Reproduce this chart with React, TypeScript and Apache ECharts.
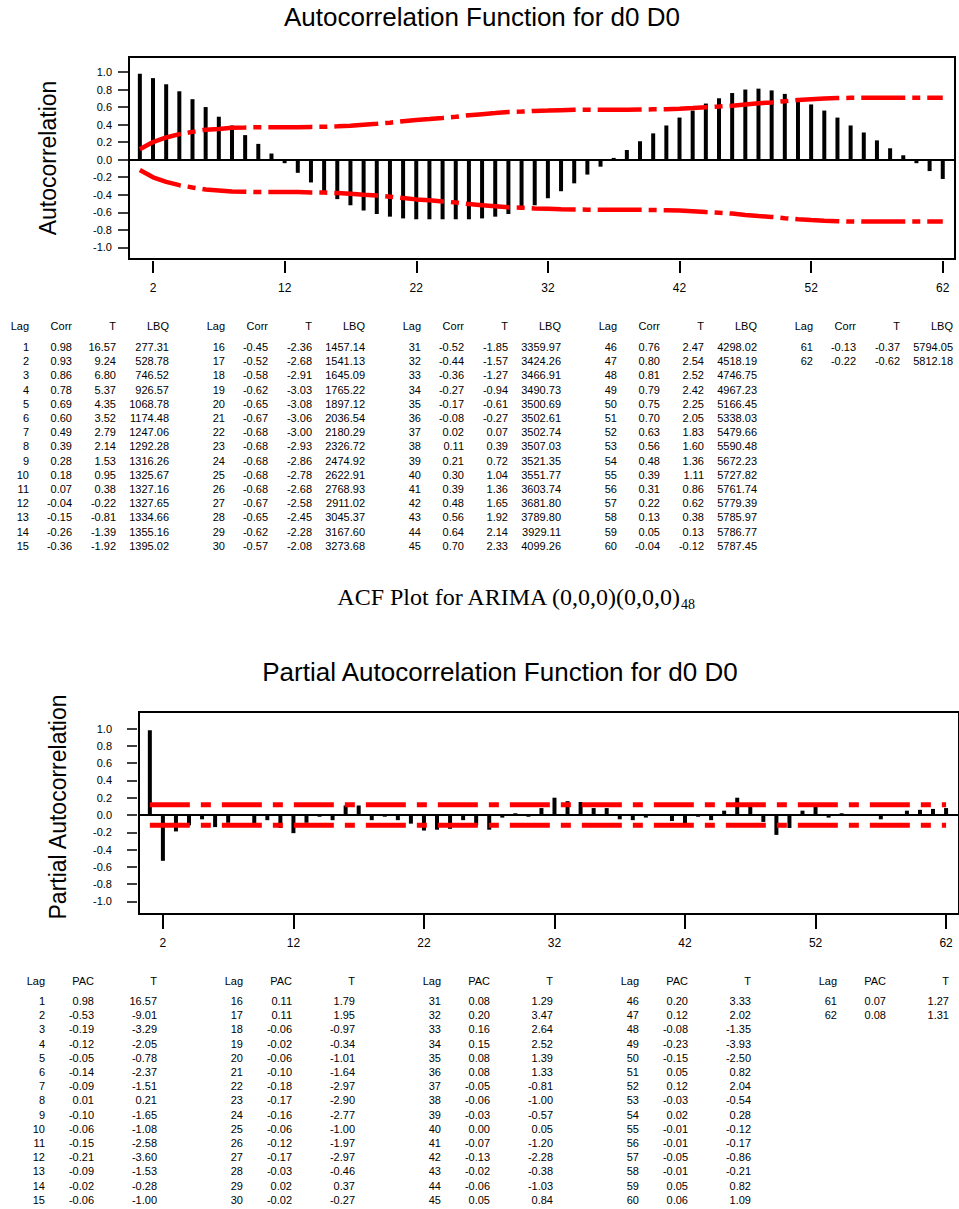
import React, { useEffect, useRef } from 'react';
import * as echarts from 'echarts';

// ---------- DATA ----------
const lags = [
  1, 2, 3, 4, 5, 6, 7, 8, 9, 10, 11, 12, 13, 14, 15,
  16, 17, 18, 19, 20, 21, 22, 23, 24, 25, 26, 27, 28, 29, 30,
  31, 32, 33, 34, 35, 36, 37, 38, 39, 40, 41, 42, 43, 44, 45,
  46, 47, 48, 49, 50, 51, 52, 53, 54, 55, 56, 57, 58, 59, 60,
  61, 62,
];

const acfCorr = [
  0.98, 0.93, 0.86, 0.78, 0.69, 0.60, 0.49, 0.39, 0.28, 0.18, 0.07, -0.04, -0.15, -0.26, -0.36,
  -0.45, -0.52, -0.58, -0.62, -0.65, -0.67, -0.68, -0.68, -0.68, -0.68, -0.68, -0.67, -0.65, -0.62, -0.57,
  -0.52, -0.44, -0.36, -0.27, -0.17, -0.08, 0.02, 0.11, 0.21, 0.30, 0.39, 0.48, 0.56, 0.64, 0.70,
  0.76, 0.80, 0.81, 0.79, 0.75, 0.70, 0.63, 0.56, 0.48, 0.39, 0.31, 0.22, 0.13, 0.05, -0.04,
  -0.13, -0.22,
];

const acfT = [
  16.57, 9.24, 6.80, 5.37, 4.35, 3.52, 2.79, 2.14, 1.53, 0.95, 0.38, -0.22, -0.81, -1.39, -1.92,
  -2.36, -2.68, -2.91, -3.03, -3.08, -3.06, -3.00, -2.93, -2.86, -2.78, -2.68, -2.58, -2.45, -2.28, -2.08,
  -1.85, -1.57, -1.27, -0.94, -0.61, -0.27, 0.07, 0.39, 0.72, 1.04, 1.36, 1.65, 1.92, 2.14, 2.33,
  2.47, 2.54, 2.52, 2.42, 2.25, 2.05, 1.83, 1.60, 1.36, 1.11, 0.86, 0.62, 0.38, 0.13, -0.12,
  -0.37, -0.62,
];

const acfLBQ = [
  277.31, 528.78, 746.52, 926.57, 1068.78, 1174.48, 1247.06, 1292.28, 1316.26, 1325.67, 1327.16, 1327.65, 1334.66, 1355.16, 1395.02,
  1457.14, 1541.13, 1645.09, 1765.22, 1897.12, 2036.54, 2180.29, 2326.72, 2474.92, 2622.91, 2768.93, 2911.02, 3045.37, 3167.60, 3273.68,
  3359.97, 3424.26, 3466.91, 3490.73, 3500.69, 3502.61, 3502.74, 3507.03, 3521.35, 3551.77, 3603.74, 3681.80, 3789.80, 3929.11, 4099.26,
  4298.02, 4518.19, 4746.75, 4967.23, 5166.45, 5338.03, 5479.66, 5590.48, 5672.23, 5727.82, 5761.74, 5779.39, 5785.97, 5786.77, 5787.45,
  5794.05, 5812.18,
];

// significance limits (upper and lower red dash-dot curves)
const acfUpper = [
  0.118, 0.201, 0.253, 0.291, 0.317, 0.341, 0.351, 0.364, 0.366, 0.370, 0.370, 0.370, 0.370, 0.374, 0.375,
  0.381, 0.388, 0.399, 0.409, 0.422, 0.438, 0.453, 0.464, 0.476, 0.489, 0.507, 0.519, 0.531, 0.544, 0.548,
  0.556, 0.560, 0.565, 0.568, 0.570, 0.570, 0.570, 0.570, 0.572, 0.574, 0.576, 0.580, 0.588, 0.598, 0.606,
  0.615, 0.630, 0.643, 0.653, 0.667, 0.680, 0.689, 0.697, 0.702, 0.705, 0.706, 0.706, 0.706, 0.706, 0.706,
  0.706, 0.706,
];
const acfLower = [
  -0.118, -0.201, -0.253, -0.291, -0.317, -0.341, -0.351, -0.364, -0.366, -0.370, -0.370, -0.370, -0.370, -0.374, -0.375,
  -0.381, -0.388, -0.399, -0.409, -0.422, -0.438, -0.453, -0.464, -0.476, -0.489, -0.507, -0.519, -0.531, -0.544, -0.548,
  -0.556, -0.560, -0.565, -0.568, -0.570, -0.570, -0.570, -0.570, -0.572, -0.574, -0.576, -0.580, -0.588, -0.598, -0.606,
  -0.615, -0.630, -0.643, -0.653, -0.667, -0.680, -0.689, -0.697, -0.702, -0.705, -0.706, -0.706, -0.706, -0.706, -0.706,
  -0.706, -0.706,
];

const pacf = [
  0.98, -0.53, -0.19, -0.12, -0.05, -0.14, -0.09, 0.01, -0.10, -0.06, -0.15, -0.21, -0.09, -0.02, -0.06,
  0.11, 0.11, -0.06, -0.02, -0.06, -0.10, -0.18, -0.17, -0.16, -0.06, -0.12, -0.17, -0.03, 0.02, -0.02,
  0.08, 0.20, 0.16, 0.15, 0.08, 0.08, -0.05, -0.06, -0.03, 0.00, -0.07, -0.13, -0.02, -0.06, 0.05,
  0.20, 0.12, -0.08, -0.23, -0.15, 0.05, 0.12, -0.03, 0.02, -0.01, -0.01, -0.05, -0.01, 0.05, 0.06,
  0.07, 0.08,
];

const pacfT = [
  16.57, -9.01, -3.29, -2.05, -0.78, -2.37, -1.51, 0.21, -1.65, -1.08, -2.58, -3.60, -1.53, -0.28, -1.00,
  1.79, 1.95, -0.97, -0.34, -1.01, -1.64, -2.97, -2.90, -2.77, -1.00, -1.97, -2.97, -0.46, 0.37, -0.27,
  1.29, 3.47, 2.64, 2.52, 1.39, 1.33, -0.81, -1.00, -0.57, 0.05, -1.20, -2.28, -0.38, -1.03, 0.84,
  3.33, 2.02, -1.35, -3.93, -2.50, 0.82, 2.04, -0.54, 0.28, -0.12, -0.17, -0.86, -0.21, 0.82, 1.09,
  1.27, 1.31,
];

const pacfLimitLags = [1, 62];
const pacfUpper = [0.118, 0.118];
const pacfLower = [-0.118, -0.118];

const xTickLabels = [2, 12, 22, 32, 42, 52, 62];
const yTickLabels = [-1, -0.8, -0.6, -0.4, -0.2, 0, 0.2, 0.4, 0.6, 0.8, 1];

const acfHeaders = ['Lag', 'Corr', 'T', 'LBQ'];
const pacfHeaders = ['Lag', 'PAC', 'T'];

const titleAcf = 'Autocorrelation Function for d0 D0';
const titlePacf = 'Partial Autocorrelation Function for d0 D0';
const yNameAcf = 'Autocorrelation';
const yNamePacf = 'Partial Autocorrelation';
const captionMain = 'ACF Plot for ARIMA (0,0,0)(0,0,0)';
const captionSub = '48';

// ---------- LAYOUT / STYLE ----------
const SANS = '"Liberation Sans", Arial, Helvetica, sans-serif';
const SERIF = '"Liberation Serif", "Times New Roman", serif';
const RED = '#ff0000';

const GRID_ACF = { left: 129, top: 57, width: 826, height: 202 };
const GRID_PACF = { left: 139, top: 712, width: 824, height: 202 };

function txt(x: number, y: number, text: string, size: number, align: string = 'right', extra: any = {}) {
  return {
    type: 'text',
    x,
    y,
    silent: true,
    style: {
      text,
      fontSize: size,
      fontFamily: SANS,
      fill: '#000',
      align,
      verticalAlign: 'middle',
      ...extra,
    },
  };
}

function frame(g: { left: number; top: number; width: number; height: number }) {
  return {
    type: 'rect',
    silent: true,
    z: 100,
    shape: { x: g.left, y: g.top, width: g.width, height: g.height },
    style: { fill: 'none', stroke: '#000', lineWidth: 2 },
  };
}

function buildTables() {
  const els: any[] = [];
  const rowsPerGroup = 15;
  const rowStep = 14.2;
  const fs = 11;
  // ACF table
  {
    const groupStep = 196;
    const colRight = [29, 72, 116, 169];
    const headerY = 326;
    const firstRowY = 347;
    const nGroups = Math.ceil(lags.length / rowsPerGroup);
    for (let g = 0; g < nGroups; g++) {
      const B = g * groupStep;
      acfHeaders.forEach((h, c) => els.push(txt(B + colRight[c], headerY, h, fs)));
      for (let r = 0; r < rowsPerGroup; r++) {
        const i = g * rowsPerGroup + r;
        if (i >= lags.length) break;
        const y = firstRowY + r * rowStep;
        const vals = [String(lags[i]), acfCorr[i].toFixed(2), acfT[i].toFixed(2), acfLBQ[i].toFixed(2)];
        vals.forEach((v, c) => els.push(txt(B + colRight[c], y, v, fs)));
      }
    }
  }
  // PACF table
  {
    const groupStep = 198;
    const colRight = [45, 94, 157];
    const headerY = 981;
    const firstRowY = 1001;
    const nGroups = Math.ceil(lags.length / rowsPerGroup);
    for (let g = 0; g < nGroups; g++) {
      const B = g * groupStep;
      pacfHeaders.forEach((h, c) => els.push(txt(B + colRight[c], headerY, h, fs)));
      for (let r = 0; r < rowsPerGroup; r++) {
        const i = g * rowsPerGroup + r;
        if (i >= lags.length) break;
        const y = firstRowY + r * rowStep;
        const vals = [String(lags[i]), pacf[i].toFixed(2), pacfT[i].toFixed(2)];
        vals.forEach((v, c) => els.push(txt(B + colRight[c], y, v, fs)));
      }
    }
  }
  return els;
}

function mkX(gridIndex: number, min: number, max: number, offset: number, tickLen: number, margin: number) {
  return {
    type: 'value',
    gridIndex,
    min,
    max,
    position: 'bottom',
    offset,
    axisLine: { show: false, onZero: false },
    axisTick: { show: true, length: tickLen, customValues: xTickLabels, lineStyle: { color: '#000', width: 2 } },
    axisLabel: { show: true, customValues: xTickLabels, margin, fontSize: 12, color: '#000', fontFamily: SANS },
    splitLine: { show: false },
  };
}

function mkY(gridIndex: number, min: number, max: number, offset: number, tickLen: number, margin: number) {
  return {
    type: 'value',
    gridIndex,
    min,
    max,
    offset,
    position: 'left',
    axisLine: { show: false, onZero: false },
    axisTick: { show: true, length: tickLen, customValues: yTickLabels, lineStyle: { color: '#000', width: 1.5 } },
    axisLabel: {
      show: true,
      customValues: yTickLabels,
      formatter: (v: number) => v.toFixed(1),
      margin,
      fontSize: 11,
      color: '#000',
      fontFamily: SANS,
    },
    splitLine: { show: false },
  };
}

function zeroLine() {
  return {
    silent: true,
    symbol: ['none', 'none'],
    label: { show: false },
    lineStyle: { color: '#000', width: 2, type: 'solid' },
    data: [{ yAxis: 0 }],
  };
}

export default function App() {
  const ref = useRef<HTMLDivElement>(null);

  useEffect(() => {
    if (!ref.current) return;
    const chart = echarts.init(ref.current, null, { renderer: 'svg' });

    const option: any = {
      animation: false,
      backgroundColor: '#fff',
      grid: [
        { ...GRID_ACF, show: true, borderColor: '#000', borderWidth: 2, backgroundColor: 'transparent' },
        { ...GRID_PACF, show: true, borderColor: '#000', borderWidth: 2, backgroundColor: 'transparent' },
      ],
      xAxis: [mkX(0, 0.176, 62.93, 2, 12, 21), mkX(1, 0.169, 62.99, 1, 14, 22)],
      yAxis: [mkY(0, -1.133, 1.171, 1, 10, 16), mkY(1, -1.145, 1.191, 2, 10, 25)],
      series: [
        {
          type: 'bar',
          xAxisIndex: 0,
          yAxisIndex: 0,
          data: lags.map((l, i) => [l, acfCorr[i]]),
          barWidth: 4,
          itemStyle: { color: '#000' },
          markLine: zeroLine(),
          z: 2,
        },
        {
          type: 'line',
          xAxisIndex: 0,
          yAxisIndex: 0,
          data: lags.map((l, i) => [l, acfUpper[i]]),
          symbol: 'none',
          lineStyle: { color: RED, width: 4.5, type: [44, 7, 8, 7] },
          z: 3,
        },
        {
          type: 'line',
          xAxisIndex: 0,
          yAxisIndex: 0,
          data: lags.map((l, i) => [l, acfLower[i]]),
          symbol: 'none',
          lineStyle: { color: RED, width: 4.5, type: [44, 7, 8, 7] },
          z: 3,
        },
        {
          type: 'bar',
          xAxisIndex: 1,
          yAxisIndex: 1,
          data: lags.map((l, i) => [l, pacf[i]]),
          barWidth: 4,
          itemStyle: { color: '#000' },
          markLine: zeroLine(),
          z: 2,
        },
        {
          type: 'line',
          xAxisIndex: 1,
          yAxisIndex: 1,
          data: pacfLimitLags.map((l, i) => [l, pacfUpper[i]]),
          symbol: 'none',
          lineStyle: { color: RED, width: 5, type: [40, 11, 10, 11] },
          z: 3,
        },
        {
          type: 'line',
          xAxisIndex: 1,
          yAxisIndex: 1,
          data: pacfLimitLags.map((l, i) => [l, pacfLower[i]]),
          symbol: 'none',
          lineStyle: { color: RED, width: 5, type: [40, 11, 10, 11] },
          z: 3,
        },
      ],
      graphic: [
        frame(GRID_ACF),
        frame(GRID_PACF),
        txt(482, 17, titleAcf, 26, 'center'),
        { ...txt(48, 158, yNameAcf, 23, 'center'), rotation: Math.PI / 2 },
        txt(680, 597, captionMain, 24, 'right', { fontFamily: SERIF }),
        txt(681, 604, captionSub, 14, 'left', { fontFamily: SERIF }),
        txt(500, 672, titlePacf, 26, 'center'),
        { ...txt(58, 807, yNamePacf, 23, 'center'), rotation: Math.PI / 2 },
        ...buildTables(),
      ],
    };

    chart.setOption(option);
    return () => chart.dispose();
  }, []);

  return (
    <div
      ref={ref}
      style={{ position: 'absolute', left: 0, top: 0, width: 959, height: 1209 }}
    />
  );
}
